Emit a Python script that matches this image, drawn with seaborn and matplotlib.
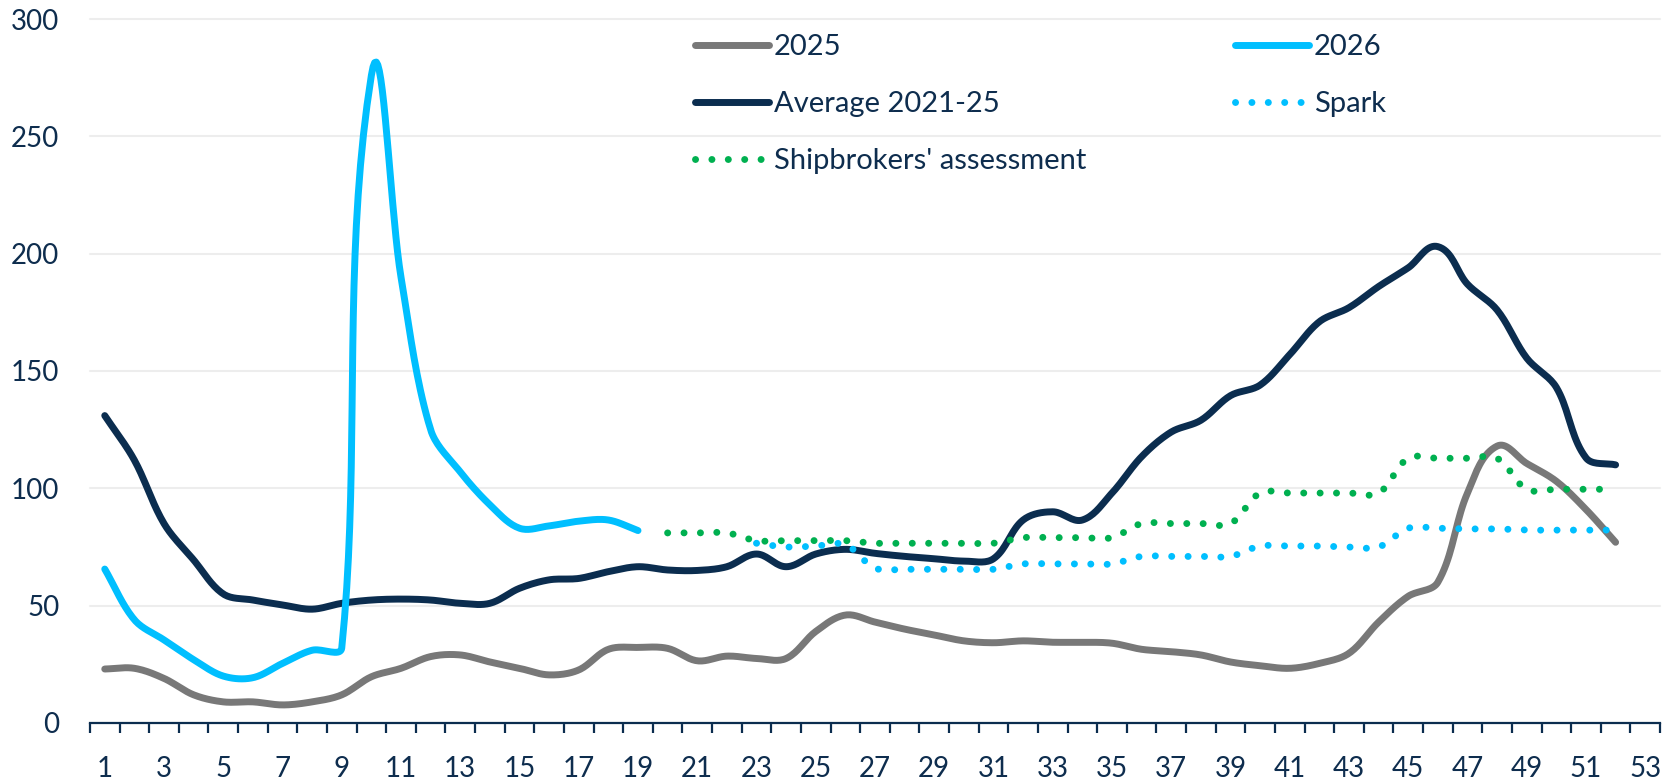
import numpy as np
import pandas as pd
import seaborn as sns
import matplotlib.pyplot as plt
from matplotlib.ticker import FixedLocator

# weekly values
weeks_2025 = list(range(1, 53))
y_2025 = [23, 23.3, 19, 12, 9, 9, 7.7, 9, 12, 19.7, 23.3, 28.3, 29, 26, 23.3, 20.5, 22.6, 31.4, 32.2, 31.8,
          26.5, 28.5, 27.5, 27.5, 39, 46, 43, 40, 37.5, 35, 34.2, 35, 34.4, 34.4, 34, 31.4, 30.4, 29, 26, 24.4,
          23.3, 25.4, 29.7, 43, 54, 60, 98, 118, 110.6, 103, 91, 77]

weeks_avg = list(range(1, 53))
y_avg = [131, 112, 85, 69.5, 55, 52.4, 50.3, 48.5, 51, 52.4, 52.8, 52.4, 51, 51, 57.4, 61, 61.6, 64.5, 66.6, 65.2,
         65, 66.6, 72, 66.6, 72, 74, 72.3, 71, 70, 69, 70, 86.5, 90, 86.5, 98, 113.5, 124, 129, 139.5, 144,
         157, 171, 177, 186, 194, 203, 187, 176, 155.5, 143, 113, 110]

weeks_2026 = list(range(1, 20))
y_2026 = [65.6, 44, 35.4, 27, 20, 19.3, 25.4, 31, 32, 276, 190, 125, 107, 93, 83, 84, 86, 86.5, 82]

weeks_spark = list(range(23, 53))
y_spark = [76.6, 75, 75.4, 76, 66, 65.5, 65.5, 65.5, 65.5, 67.8, 67.8, 67.8, 67.8, 71, 71, 71, 71,
           75.4, 75.4, 75.4, 75, 75, 83, 83, 82.7, 82.7, 82.2, 82.2, 82.2, 82.2]

weeks_ship = list(range(20, 53))
y_ship = [81, 81, 81, 77.7, 77.7, 77.7, 77.7, 76.6, 76.6, 76.6, 76.6, 76.6, 79, 79, 79, 79, 85, 85, 85, 85,
          98, 98, 98, 98, 98, 112.8, 112.8, 112.8, 112.8, 99.6, 99.6, 99.6, 99.6]

x_labels = list(range(1, 54, 2))

NAVY = "#0B2D4F"
TEXT = "#0E2D4E"
GREY = "#787878"
LBLUE = "#00BFFF"
GREEN = "#00B050"

SX, SY = 29.6, 2.35  # px per week / per unit, only to shape the smoothing


def smooth(xs, ys, f=1 / 3, n=20):
    # excel-style smoothed line: bezier segments through the points
    p = np.column_stack([np.asarray(xs, float) * SX, np.asarray(ys, float) * SY])
    m = len(p)
    d = np.zeros_like(p)
    for i in range(m):
        v = p[min(i + 1, m - 1)] - p[max(i - 1, 0)]
        d[i] = v / np.hypot(*v)
    t = np.linspace(0, 1, n)[:, None]
    out = [p[:1]]
    for i in range(m - 1):
        L = np.hypot(*(p[i + 1] - p[i]))
        c1 = p[i] + d[i] * L * f
        c2 = p[i + 1] - d[i + 1] * L * f
        seg = (1 - t) ** 3 * p[i] + 3 * (1 - t) ** 2 * t * c1 + 3 * (1 - t) * t ** 2 * c2 + t ** 3 * p[i + 1]
        out.append(seg[1:])
    out = np.vstack(out)
    return pd.DataFrame({"week": out[:, 0] / SX, "value": out[:, 1] / SY})


sns.set_theme(style="white")
plt.rcParams["font.family"] = ["Lato", "DejaVu Sans"]

fig = plt.figure(figsize=(16.78, 7.79), dpi=100)
ax = fig.add_axes([0.0536, 0.0719, 0.9357, 0.9037])

lw = 5
dots = (0, (0.01, 2.35))
series = [
    ("2025", weeks_2025, y_2025, GREY, "-"),
    ("Average 2021-25", weeks_avg, y_avg, NAVY, "-"),
    ("2026", weeks_2026, y_2026, LBLUE, "-"),
    ("Spark", weeks_spark, y_spark, LBLUE, dots),
    ("Shipbrokers' assessment", weeks_ship, y_ship, GREEN, dots),
]
handles = {}
for name, xs, ys, col, ls in series:
    df = smooth(xs, ys)
    sns.lineplot(data=df, x="week", y="value", ax=ax, color=col, linewidth=lw,
                 sort=False, estimator=None, label=name)
    line = ax.lines[-1]
    line.set_linestyle(ls)
    line.set_solid_capstyle("round")
    line.set_dash_capstyle("round")
    handles[name] = line

ax.set_xlim(0.5, 53.5)
ax.set_ylim(0, 300)
ax.set_xlabel("")
ax.set_ylabel("")

ax.set_yticks(range(0, 301, 50))
ax.set_xticks(x_labels)
ax.xaxis.set_minor_locator(FixedLocator(np.arange(0.5, 54, 1)))
ax.tick_params(axis="y", length=0, pad=22, labelsize=20, labelcolor=TEXT)
ax.tick_params(axis="x", which="major", length=0, pad=24, labelsize=20, labelcolor=TEXT)
ax.tick_params(axis="x", which="minor", bottom=True, length=7, width=1.6, color=NAVY, direction="out")

ax.yaxis.grid(True, color="#EDEDED", linewidth=1.5)
for gl in ax.get_ygridlines():
    gl.set_clip_on(False)
ax.set_axisbelow(True)

for s in ["top", "right", "left"]:
    ax.spines[s].set_visible(False)
ax.spines["bottom"].set_color(NAVY)
ax.spines["bottom"].set_linewidth(1.6)

order = ["2025", "Average 2021-25", "Shipbrokers' assessment", "2026", "Spark"]
ax.legend(handles=[handles[k] for k in order], labels=order, ncol=2, frameon=False,
          loc="upper left", bbox_to_anchor=(695 / 1678, 1 - 34 / 779), bbox_transform=fig.transFigure,
          borderaxespad=0, borderpad=0, fontsize=21, labelcolor=TEXT,
          handlelength=2.53, handletextpad=0.17, columnspacing=5.1, labelspacing=1.06)

fig.savefig("out.png", dpi=100)
